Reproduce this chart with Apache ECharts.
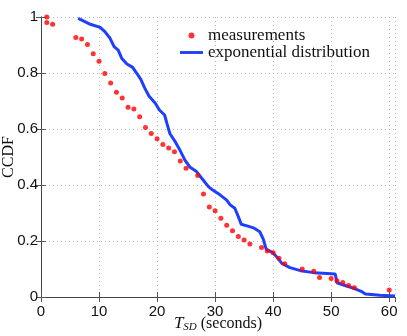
<!DOCTYPE html>
<html>
<head>
<meta charset="utf-8">
<script src="https://cdn.jsdelivr.net/npm/echarts@6/dist/echarts.min.js"></script>
<style>
  html, body { margin: 0; padding: 0; background: #ffffff; }
  #chart { width: 407px; height: 336px; }
</style>
</head>
<body>
<div id="chart"></div>
<script>
const measX = [1, 1, 2, 6, 7, 8, 9, 10, 11, 12, 13, 14, 15, 16, 17, 18, 19, 20, 21, 22, 23, 24, 25, 27, 28, 29, 30, 31, 32, 33, 34, 35, 36, 38, 39, 40, 41, 42, 45, 47, 48, 50, 51, 52, 53, 54, 60];
const measY = [1.0, 0.98, 0.974, 0.927, 0.921, 0.902, 0.869, 0.842, 0.798, 0.764, 0.731, 0.711, 0.678, 0.671, 0.644, 0.605, 0.584, 0.565, 0.545, 0.532, 0.519, 0.486, 0.46, 0.434, 0.368, 0.321, 0.308, 0.281, 0.256, 0.237, 0.216, 0.204, 0.189, 0.177, 0.164, 0.158, 0.138, 0.119, 0.1, 0.092, 0.07, 0.066, 0.058, 0.052, 0.041, 0.033, 0.025];

// exponential distribution curve
const expX = [6.4, 7.3, 8.5, 10.2, 11.0, 11.9, 12.6, 13.3, 13.9, 14.8, 15.8, 16.5, 17.2, 17.9, 18.6, 19.7, 20.4, 21.3, 21.7, 22.2, 23.2, 24.0, 24.8, 25.7, 26.8, 27.7, 28.85, 29.4, 30.9, 32.0, 32.6, 33.4, 34.0, 34.5, 35.5, 36.6, 37.7, 38.3, 38.8, 39.9, 40.6, 41.5, 42.9, 44.7, 47.0, 49.3, 50.7, 51.0, 52.1, 53.9, 55.3, 55.9, 58.4, 61];
const expY = [0.995, 0.986, 0.974, 0.963, 0.948, 0.924, 0.894, 0.882, 0.853, 0.832, 0.82, 0.799, 0.777, 0.745, 0.718, 0.692, 0.668, 0.65, 0.62, 0.584, 0.552, 0.522, 0.489, 0.463, 0.448, 0.424, 0.394, 0.385, 0.364, 0.346, 0.329, 0.317, 0.287, 0.26, 0.254, 0.247, 0.233, 0.207, 0.171, 0.159, 0.144, 0.12, 0.105, 0.094, 0.087, 0.084, 0.082, 0.051, 0.043, 0.031, 0.019, 0.011, 0.006, 0.004];

const seriesNames = ['measurements', 'exponential distribution'];

const chart = echarts.init(document.getElementById('chart'), null, { renderer: 'canvas' });

const tickFont = 'Liberation Sans, Arial, sans-serif';
const serifFont = 'Liberation Serif, Times New Roman, serif';
const blue = '#1f3fff';

function boxAxis(pos, isX) {
  // mirrored axis for the MATLAB style box (ticks only)
  return {
    type: 'value',
    position: pos,
    min: 0,
    max: isX ? 61 : 1,
    interval: isX ? 10 : 0.2,
    axisLine: { show: true, lineStyle: { color: '#444', width: 1 } },
    axisTick: { show: true, inside: true, length: 5, lineStyle: { color: '#555' } },
    axisLabel: { show: false },
    splitLine: { show: false }
  };
}

const option = {
  backgroundColor: '#ffffff',
  animation: false,
  grid: { left: 41, right: 12, top: 17, bottom: 39, outerBoundsMode: 'none' },
  legend: {
    orient: 'vertical',
    left: 180,
    top: 27,
    padding: 0,
    itemWidth: 23,
    itemHeight: 6,
    itemGap: 0,
    symbolKeepAspect: true,
    textStyle: { fontFamily: serifFont, fontSize: 17, color: '#111' },
    data: [
      { name: seriesNames[0], icon: 'circle' },
      { name: seriesNames[1], icon: 'path://M0,0H24V3H0Z' }
    ]
  },
  xAxis: [{
    type: 'value',
    min: 0,
    max: 61,
    interval: 10,
    name: '{t|T}{s|SD}{n| (seconds)}',
    nameLocation: 'middle',
    nameGap: 17,
    nameMoveOverlap: false,
    nameTextStyle: {
      align: 'center',
      rich: {
        t: { fontFamily: serifFont, fontStyle: 'italic', fontSize: 17, color: '#111' },
        s: { fontFamily: serifFont, fontStyle: 'italic', fontSize: 11, color: '#111', padding: [8, 0, 0, 0] },
        n: { fontFamily: serifFont, fontSize: 16, color: '#111' }
      }
    },
    axisLine: { show: true, lineStyle: { color: '#222', width: 1 } },
    axisTick: { show: true, inside: true, length: 5, lineStyle: { color: '#555' } },
    axisLabel: { fontFamily: tickFont, fontSize: 15, color: '#111', margin: 7, showMaxLabel: false },
    splitLine: { show: true, lineStyle: { color: '#bbb', type: [1, 3], width: 1 } }
  }, boxAxis('top', true)],
  yAxis: [{
    type: 'value',
    min: 0,
    max: 1,
    interval: 0.2,
    name: 'CCDF',
    nameLocation: 'middle',
    nameGap: 24,
    nameMoveOverlap: false,
    nameTextStyle: { fontFamily: serifFont, fontSize: 16, color: '#111' },
    axisLine: { show: true, lineStyle: { color: '#555', width: 1 } },
    axisTick: { show: true, inside: true, length: 5, lineStyle: { color: '#555' } },
    axisLabel: { fontFamily: tickFont, fontSize: 15, color: '#111', margin: 3 },
    splitLine: { show: true, lineStyle: { color: '#bbb', type: [1, 3], width: 1 } }
  }, boxAxis('right', false)],
  series: [{
    name: seriesNames[0],
    type: 'scatter',
    symbol: 'circle',
    symbolSize: 5,
    z: 4,
    itemStyle: { color: '#ff0000' },
    data: measX.map(function (x, i) { return [x, measY[i]]; })
  }, {
    name: seriesNames[1],
    type: 'line',
    showSymbol: false,
    symbol: 'none',
    z: 3,
    lineStyle: { color: blue, width: 3 },
    itemStyle: { color: blue },
    data: expX.map(function (x, i) { return [x, expY[i]]; })
  }]
};

chart.setOption(option);
</script>
</body>
</html>
